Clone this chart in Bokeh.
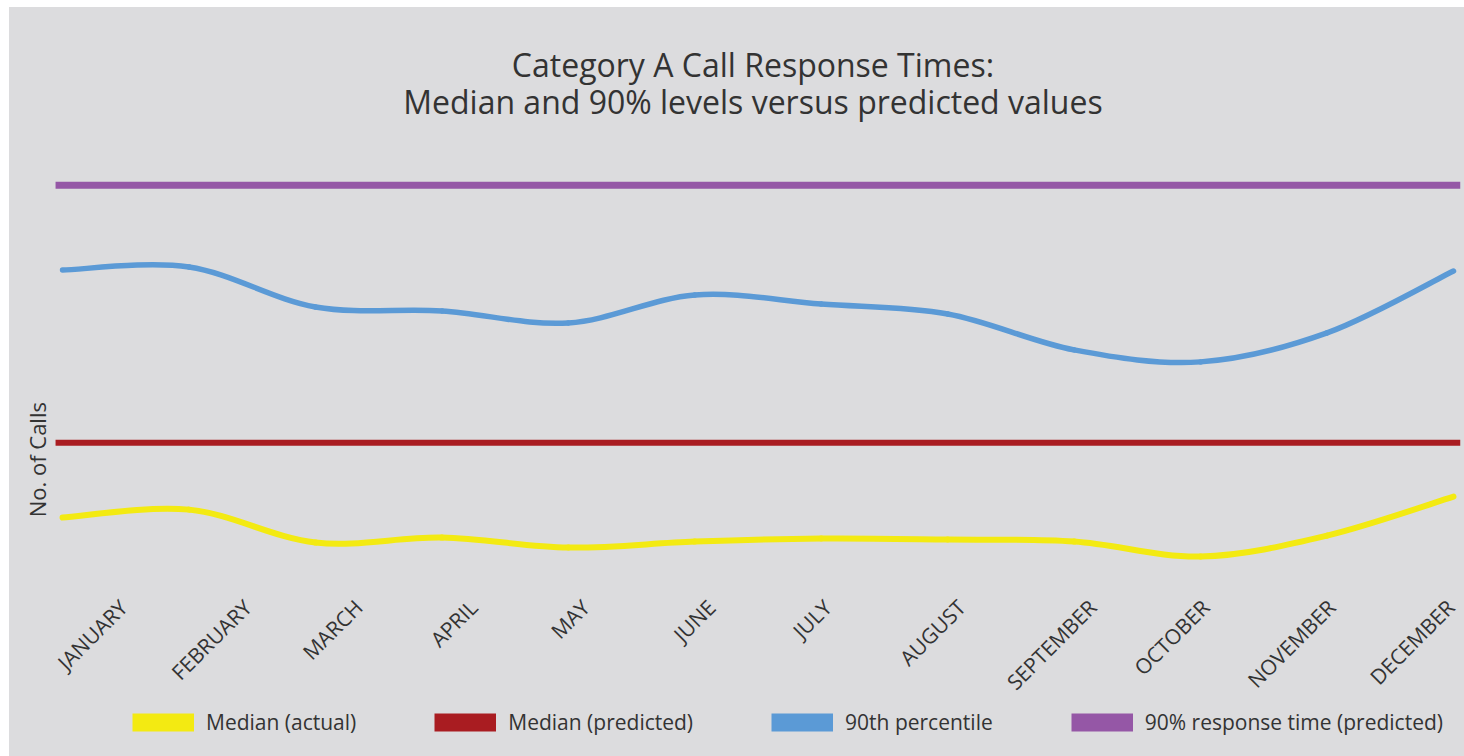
from math import pi

from bokeh.plotting import figure
from bokeh.layouts import column
from bokeh.models import (ColumnDataSource, Legend, LegendItem, Label,
                          FixedTicker, Range1d)
from bokeh.embed import file_html
from bokeh.resources import INLINE

# ---------------- data ----------------
months = ["JANUARY", "FEBRUARY", "MARCH", "APRIL", "MAY", "JUNE", "JULY",
          "AUGUST", "SEPTEMBER", "OCTOBER", "NOVEMBER", "DECEMBER"]
median_actual = [6.7, 7.5, 4.2, 4.7, 3.7, 4.3, 4.6, 4.5, 4.3, 2.8, 4.9, 8.8]
percentile_90 = [31.5, 31.8, 27.8, 27.4, 26.2, 29.0, 28.1, 27.1, 23.5, 22.3, 25.2, 31.4]
median_predicted = 14.2
response_90_predicted = 40.0

title_lines = ["Category A Call Response Times:",
               "Median and 90% levels versus predicted values"]
legend_labels = ["Median (actual)", "Median (predicted)", "90th percentile",
                 "90% response time (predicted)"]

# ---------------- style ----------------
BG = "#dcdcde"
TXT = "#333333"
YELLOW = "#f3ea12"
RED = "#a91c21"
BLUE = "#5b9ad6"
PURPLE = "#9557a6"
FONT = "Open Sans"

X_START, X_END = -0.0554, 11.0554   # extent of the plotted area (month units)

x_idx = list(range(len(months)))

p = figure(width=1455, height=701, output_backend="svg", toolbar_location=None,
           x_range=Range1d(-0.4196, X_END), y_range=Range1d(0.5, 57.8),
           y_axis_location=None,
           min_border_left=0, min_border_right=4, min_border_top=0,
           min_border_bottom=128)

p.background_fill_color = BG
p.border_fill_color = BG
p.outline_line_color = None
p.grid.visible = False
p.styles = {"background-color": BG}


def catmull_segments(xs, ys):
    n = len(xs)
    out = dict(x0=[], y0=[], x1=[], y1=[], cx0=[], cy0=[], cx1=[], cy1=[])
    for i in range(n - 1):
        a = max(i - 1, 0)
        d = min(i + 2, n - 1)
        out["x0"].append(xs[i]); out["y0"].append(ys[i])
        out["x1"].append(xs[i + 1]); out["y1"].append(ys[i + 1])
        out["cx0"].append(xs[i] + (xs[i + 1] - xs[a]) / 6.0)
        out["cy0"].append(ys[i] + (ys[i + 1] - ys[a]) / 6.0)
        out["cx1"].append(xs[i + 1] - (xs[d] - xs[i]) / 6.0)
        out["cy1"].append(ys[i + 1] - (ys[d] - ys[i]) / 6.0)
    return ColumnDataSource(out)


# horizontal predicted levels
p.segment(x0=[X_START], x1=[X_END], y0=[response_90_predicted],
          y1=[response_90_predicted], line_color=PURPLE, line_width=7)
p.segment(x0=[X_START], x1=[X_END], y0=[median_predicted],
          y1=[median_predicted], line_color=RED, line_width=6)

# smooth curves
p.bezier(x0="x0", y0="y0", x1="x1", y1="y1", cx0="cx0", cy0="cy0",
         cx1="cx1", cy1="cy1", source=catmull_segments(x_idx, percentile_90),
         line_color=BLUE, line_width=5.5, line_cap="round")
p.bezier(x0="x0", y0="y0", x1="x1", y1="y1", cx0="cx0", cy0="cy0",
         cx1="cx1", cy1="cy1", source=catmull_segments(x_idx, median_actual),
         line_color=YELLOW, line_width=6, line_cap="round")

# x axis: rotated month labels
tick_pos = [0.482, 1.463, 2.341, 3.250, 4.136, 5.132, 6.050, 7.110,
            8.146, 9.039, 10.036, 10.977]
xa = p.xaxis[0]
xa.ticker = FixedTicker(ticks=tick_pos)
xa.major_label_overrides = {t: m for t, m in zip(tick_pos, months)}
xa.major_label_orientation = pi / 4
xa.major_label_standoff = 18
xa.major_label_text_font = FONT
xa.major_label_text_font_size = "21px"
xa.major_label_text_color = TXT
xa.axis_line_color = None
xa.major_tick_line_color = None
xa.minor_tick_line_color = None

# title lines
for txt, ty in zip(title_lines, [52.1, 48.4]):
    p.add_layout(Label(x=5.46, y=ty, text=txt, text_align="center",
                       text_baseline="middle", text_font=FONT,
                       text_font_size="32px", text_color=TXT))

# y label
p.add_layout(Label(x=-0.2, y=12.5, text="No. of Calls", angle=pi / 2,
                   text_align="center", text_baseline="middle",
                   text_font=FONT, text_font_size="22px", text_color=TXT))

# ---------------- legend strip ----------------
pl = figure(width=1455, height=48, output_backend="svg", toolbar_location=None,
            x_range=Range1d(0, 1), y_range=Range1d(0, 1),
            x_axis_location=None, y_axis_location=None,
            min_border_left=0, min_border_right=4, min_border_top=0,
            min_border_bottom=0)
pl.background_fill_color = BG
pl.border_fill_color = BG
pl.outline_line_color = None
pl.grid.visible = False
pl.styles = {"background-color": BG}

colors = [YELLOW, RED, BLUE, PURPLE]
items = []
for lab, col in zip(legend_labels, colors):
    # swatch renderer kept outside the visible range: only its legend entry shows
    r = pl.line(x=[-10, -9], y=[-10, -10], line_color=col, line_width=18)
    items.append(LegendItem(label=lab, renderers=[r]))
leg = Legend(items=items, location=(123, 19), orientation="horizontal",
             glyph_width=62, glyph_height=30, label_standoff=12,
             label_height=18, padding=0, margin=0, spacing=78,
             border_line_color=None, background_fill_alpha=0,
             label_text_font=FONT, label_text_font_size="21px",
             label_text_color=TXT, label_text_baseline="middle")
pl.add_layout(leg)

layout = column(p, pl, spacing=0)
layout.margin = (7, 0, 0, 9)
layout.styles = {"background-color": BG}

open("out.html", "w").write(file_html(layout, INLINE))
